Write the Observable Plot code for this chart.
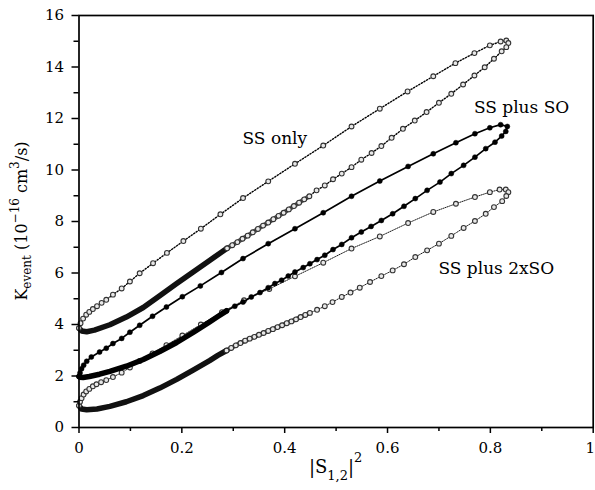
<!DOCTYPE html>
<html>
<head>
<meta charset="utf-8">
<script src="https://cdn.jsdelivr.net/npm/d3@7"></script>
<script src="https://cdn.jsdelivr.net/npm/@observablehq/plot@0.6"></script>
<style>
  body { margin: 0; background: white; }
  #chart svg { display: block; }
</style>
</head>
<body>
<div id="chart"></div>
<script>
// ---- Data (x = |S12|^2, y = K_event in 1e-16 cm^3/s) ----
// "SS only": points with markers (upper branch, tip, lower branch down to x≈0.29)
const ssOnlyPts = [[0.000,3.86],[0.003,4.05],[0.008,4.23],[0.014,4.38],[0.020,4.49],[0.027,4.60],[0.035,4.71],[0.044,4.84],[0.053,4.96],[0.066,5.16],[0.083,5.40],[0.099,5.67],[0.118,5.99],[0.144,6.38],[0.171,6.78],[0.203,7.24],[0.237,7.72],[0.275,8.28],[0.319,8.91],[0.368,9.56],[0.420,10.24],[0.475,10.95],[0.530,11.69],[0.585,12.38],[0.639,13.05],[0.689,13.64],[0.732,14.15],[0.769,14.54],[0.799,14.84],[0.820,14.99],[0.831,15.03],[0.835,14.93],[0.831,14.77],[0.822,14.61],[0.807,14.32],[0.789,13.99],[0.769,13.67],[0.747,13.32],[0.724,12.96],[0.700,12.61],[0.676,12.25],[0.653,11.92],[0.630,11.60],[0.608,11.25],[0.588,10.93],[0.569,10.66],[0.549,10.40],[0.530,10.11],[0.511,9.86],[0.494,9.64],[0.478,9.40],[0.462,9.21],[0.448,8.98],[0.438,8.86],[0.428,8.73],[0.418,8.60],[0.408,8.47],[0.398,8.34],[0.388,8.22],[0.378,8.09],[0.368,7.96],[0.358,7.84],[0.348,7.71],[0.338,7.58],[0.328,7.45],[0.318,7.33],[0.308,7.20],[0.298,7.08],[0.288,6.96]];
// "SS only": densely sampled part of the lower branch (markers merge into a band)
const ssOnlyBand = [[0.288,6.96],[0.272,6.74],[0.254,6.49],[0.222,6.04],[0.190,5.59],[0.157,5.12],[0.125,4.66],[0.092,4.29],[0.060,3.99],[0.030,3.78],[0.015,3.72],[0.005,3.75],[0.000,3.86]];

// "SS plus SO"
const ssSoPts = [[0.000,1.98],[0.002,2.12],[0.005,2.28],[0.009,2.42],[0.015,2.57],[0.024,2.74],[0.040,2.93],[0.053,3.08],[0.066,3.26],[0.083,3.46],[0.099,3.70],[0.118,3.97],[0.143,4.32],[0.170,4.68],[0.201,5.08],[0.236,5.50],[0.277,6.02],[0.319,6.56],[0.368,7.14],[0.420,7.72],[0.475,8.34],[0.530,8.98],[0.585,9.57],[0.640,10.14],[0.689,10.63],[0.733,11.06],[0.770,11.41],[0.799,11.64],[0.820,11.76],[0.833,11.69],[0.830,11.50],[0.822,11.32],[0.809,11.08],[0.791,10.83],[0.770,10.50],[0.748,10.18],[0.724,9.86],[0.702,9.53],[0.677,9.21],[0.654,8.89],[0.632,8.59],[0.610,8.30],[0.588,8.04],[0.568,7.81],[0.549,7.59],[0.530,7.37],[0.511,7.11],[0.494,6.91],[0.478,6.69],[0.463,6.52],[0.449,6.36],[0.436,6.21],[0.420,6.04],[0.407,5.88],[0.394,5.72],[0.381,5.59],[0.368,5.43],[0.352,5.24],[0.335,5.07],[0.319,4.87],[0.303,4.71],[0.287,4.53]];
const ssSoBand = [[0.287,4.53],[0.270,4.31],[0.254,4.10],[0.222,3.69],[0.190,3.30],[0.157,2.95],[0.125,2.64],[0.092,2.38],[0.060,2.18],[0.040,2.07],[0.020,1.98],[0.008,1.94],[0.002,1.95],[0.000,1.98]];

// "SS plus 2xSO"
const ss2SoPts = [[0.000,0.85],[0.002,1.00],[0.005,1.14],[0.009,1.28],[0.014,1.40],[0.020,1.50],[0.027,1.60],[0.034,1.68],[0.043,1.76],[0.053,1.84],[0.066,1.96],[0.083,2.13],[0.099,2.33],[0.118,2.58],[0.143,2.88],[0.170,3.20],[0.201,3.57],[0.237,4.00],[0.278,4.48],[0.321,4.94],[0.370,5.38],[0.420,5.87],[0.475,6.40],[0.530,6.95],[0.585,7.42],[0.640,7.94],[0.689,8.37],[0.733,8.69],[0.770,8.95],[0.799,9.14],[0.818,9.24],[0.830,9.24],[0.835,9.14],[0.831,8.99],[0.823,8.79],[0.807,8.56],[0.791,8.30],[0.770,8.02],[0.748,7.75],[0.724,7.44],[0.700,7.14],[0.677,6.88],[0.654,6.62],[0.632,6.34],[0.610,6.10],[0.588,5.88],[0.566,5.65],[0.546,5.43],[0.528,5.24],[0.511,5.07],[0.493,4.87],[0.478,4.71],[0.463,4.57],[0.449,4.45],[0.440,4.37],[0.431,4.29],[0.422,4.20],[0.413,4.12],[0.404,4.05],[0.395,3.97],[0.386,3.90],[0.377,3.82],[0.368,3.75],[0.359,3.67],[0.350,3.60],[0.341,3.52],[0.332,3.45],[0.323,3.37],[0.314,3.28],[0.305,3.19],[0.296,3.09],[0.287,2.99]];
const ss2SoBand = [[0.287,2.99],[0.270,2.80],[0.254,2.60],[0.222,2.23],[0.190,1.87],[0.157,1.53],[0.125,1.24],[0.092,1.00],[0.060,0.82],[0.035,0.72],[0.015,0.69],[0.005,0.72],[0.000,0.85]];

// Ticks
const xTicks = [0, 0.2, 0.4, 0.6, 0.8, 1];
const xTickLabels = ["0", "0.2", "0.4", "0.6", "0.8", "1"];
const xMinorTicks = [0.1, 0.3, 0.5, 0.7, 0.9];
const yTicks = [0, 2, 4, 6, 8, 10, 12, 14, 16];
const yTickLabels = ["0", "2", "4", "6", "8", "10", "12", "14", "16"];
const yMinorTicks = [1, 3, 5, 7, 9, 11, 13, 15];

// Curve labels
const curveNames = ["SS only", "SS plus SO", "SS plus 2xSO"];
const curveNameAt = [[0.318, 11.22], [0.768, 12.42], [0.699, 6.19]];

// ---- Build ----
const toRows = pts => pts.map(([x, y]) => ({x, y}));
// the lower-branch markers that are packed closely (after the tip, x <= 0.45)
const packed = pts => {
  let tip = 0;
  pts.forEach((p, i) => { if (p[0] > pts[tip][0]) tip = i; });
  return pts.filter((p, i) => i > tip && p[0] <= 0.452);
};
const ssOnly = toRows(ssOnlyPts), ssOnlyB = toRows(ssOnlyBand), ssOnlyP = toRows(packed(ssOnlyPts));
const ssSo = toRows(ssSoPts), ssSoB = toRows(ssSoBand);
const ss2So = toRows(ss2SoPts), ss2SoB = toRows(ss2SoBand), ss2SoP = toRows(packed(ss2SoPts));
const labelRows = curveNames.map((t, i) => ({text: t, x: curveNameAt[i][0], y: curveNameAt[i][1]}));

const FONT = "DejaVu Serif";
const lastX = xTicks.slice(-1);

const chart = Plot.plot({
  width: 595,
  height: 490,
  marginLeft: 78.5,
  marginRight: 2.3,
  marginTop: 15,
  marginBottom: 63,
  style: {fontFamily: FONT, fontSize: "15px", color: "black", background: "white"},
  x: {domain: [0, 1]},
  y: {domain: [0, 16]},
  marks: [
    // SS only
    Plot.line(ssOnly.concat(ssOnlyB), {x: "x", y: "y", stroke: "black", strokeWidth: 1.4, strokeDasharray: "1.2,1.8"}),
    Plot.line(ssOnlyP, {x: "x", y: "y", stroke: "#555", strokeWidth: 4.5, strokeLinecap: "round"}),
    Plot.line(ssOnlyB, {x: "x", y: "y", stroke: "#111", strokeWidth: 5.5, strokeLinecap: "round", strokeLinejoin: "round"}),
    Plot.dot(ssOnly, {x: "x", y: "y", r: 2.4, fill: "#e8e8e8", stroke: "#333", strokeWidth: 1.1}),
    // SS plus 2xSO
    Plot.line(ss2So.concat(ss2SoB), {x: "x", y: "y", stroke: "black", strokeWidth: 0.9, strokeDasharray: "0.8,1.2"}),
    Plot.line(ss2SoP, {x: "x", y: "y", stroke: "#555", strokeWidth: 4.5, strokeLinecap: "round"}),
    Plot.line(ss2SoB, {x: "x", y: "y", stroke: "#111", strokeWidth: 5.5, strokeLinecap: "round", strokeLinejoin: "round"}),
    Plot.dot(ss2So, {x: "x", y: "y", r: 2.4, fill: "#e8e8e8", stroke: "#333", strokeWidth: 1.1}),
    // SS plus SO
    Plot.line(ssSo.concat(ssSoB), {x: "x", y: "y", stroke: "black", strokeWidth: 1.7}),
    Plot.line(ssSoB, {x: "x", y: "y", stroke: "black", strokeWidth: 5.5, strokeLinecap: "round", strokeLinejoin: "round"}),
    Plot.dot(ssSo, {x: "x", y: "y", r: 2.5, fill: "black", stroke: "black", strokeWidth: 0.5}),
    // labels
    Plot.text(labelRows, {x: "x", y: "y", text: "text", textAnchor: "start", fontSize: 17, fill: "black"}),
    // frame and axes
    Plot.frame({stroke: "black", strokeWidth: 1.7}),
    Plot.axisX({ticks: xTicks, tickSize: 6, tickPadding: 9, strokeWidth: 1.5, label: null,
      tickFormat: (d, i) => (i < xTicks.length - 1 ? xTickLabels[i] : "")}),
    Plot.axisX({ticks: lastX, tickSize: 0, tickPadding: 15, dx: -3, label: null,
      tickFormat: () => xTickLabels[xTickLabels.length - 1]}),
    Plot.axisX({ticks: xMinorTicks, tickSize: 4, strokeWidth: 1.5, label: null, tickFormat: () => ""}),
    Plot.axisY({ticks: yTicks, tickSize: 7, tickPadding: 8, strokeWidth: 1.5, label: null,
      tickFormat: (d, i) => yTickLabels[i]}),
    Plot.axisY({ticks: yMinorTicks, tickSize: 5, strokeWidth: 1.5, label: null, tickFormat: () => ""})
  ]
});

document.getElementById("chart").appendChild(chart);

// Axis titles with sub/superscripts
const sx = chart.scale("x"), sy = chart.scale("y");
const svg = d3.select(chart);

const yl = svg.append("text")
  .attr("transform", `translate(27,${sy.apply(8)}) rotate(-90)`)
  .attr("text-anchor", "middle")
  .attr("fill", "black")
  .style("font-family", FONT)
  .style("font-size", "16px");
yl.append("tspan").text("K");
yl.append("tspan").attr("dy", 4).style("font-size", "12px").text("event");
yl.append("tspan").attr("dy", -4).text(" (10");
yl.append("tspan").attr("dy", -8).style("font-size", "12px").text("\u221216");
yl.append("tspan").attr("dy", 8).text(" cm");
yl.append("tspan").attr("dy", -8).style("font-size", "12px").text("3");
yl.append("tspan").attr("dy", 8).text("/s)");

const xl = svg.append("text")
  .attr("transform", `translate(${sx.apply(0.5)},473)`)
  .attr("text-anchor", "middle")
  .attr("fill", "black")
  .style("font-family", FONT)
  .style("font-size", "18px");
xl.append("tspan").text("|S");
xl.append("tspan").attr("dy", 7).style("font-size", "13px").text("1,2");
xl.append("tspan").attr("dy", -7).text("|");
xl.append("tspan").attr("dy", -11).style("font-size", "13px").text("2");
</script>
</body>
</html>
